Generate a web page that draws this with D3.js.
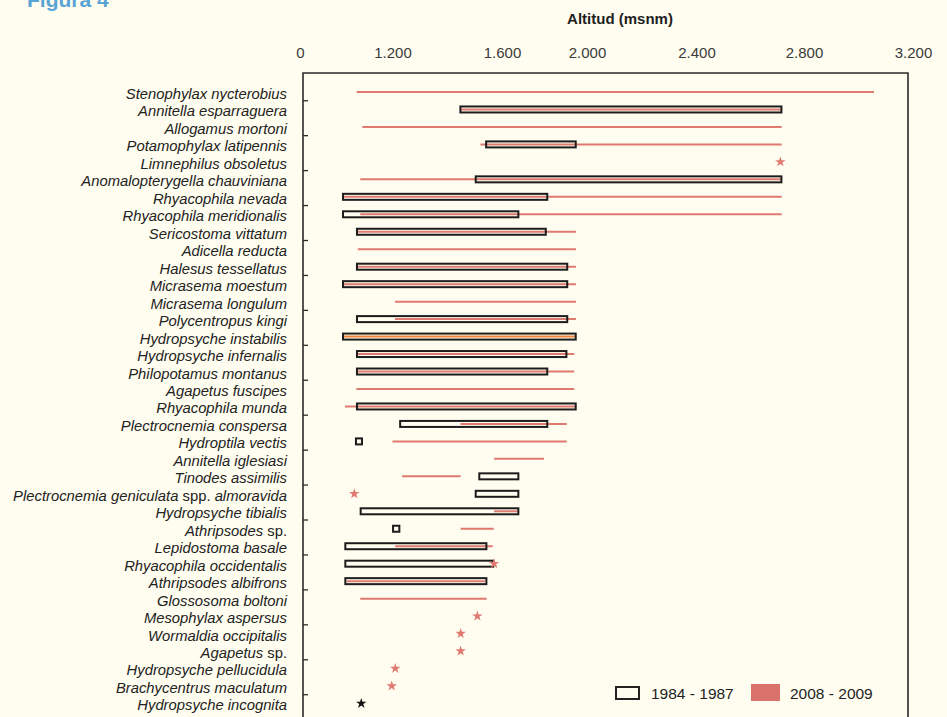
<!DOCTYPE html>
<html>
<head>
<meta charset="utf-8">
<script src="https://cdn.jsdelivr.net/npm/d3@7"></script>
<style>
  html, body { margin: 0; padding: 0; background: #fffdef; }
  svg { display: block; }
  text { font-family: "Liberation Sans", Arial, Helvetica, sans-serif; }
</style>
</head>
<body>
<svg id="chart" width="947" height="717"></svg>
<script>
// Species (top to bottom). Parts in [brackets] are set upright, the rest italic.
const species = [
  "Stenophylax nycterobius",
  "Annitella esparraguera",
  "Allogamus mortoni",
  "Potamophylax latipennis",
  "Limnephilus obsoletus",
  "Anomalopterygella chauviniana",
  "Rhyacophila nevada",
  "Rhyacophila meridionalis",
  "Sericostoma vittatum",
  "Adicella reducta",
  "Halesus tessellatus",
  "Micrasema moestum",
  "Micrasema longulum",
  "Polycentropus kingi",
  "Hydropsyche instabilis",
  "Hydropsyche infernalis",
  "Philopotamus montanus",
  "Agapetus fuscipes",
  "Rhyacophila munda",
  "Plectrocnemia conspersa",
  "Hydroptila vectis",
  "Annitella iglesiasi",
  "Tinodes assimilis",
  "Plectrocnemia geniculata[ spp. ]almoravida",
  "Hydropsyche tibialis",
  "Athripsodes[ sp.]",
  "Lepidostoma basale",
  "Rhyacophila occidentalis",
  "Athripsodes albifrons",
  "Glossosoma boltoni",
  "Mesophylax aspersus",
  "Wormaldia occipitalis",
  "Agapetus[ sp.]",
  "Hydropsyche pellucidula",
  "Brachycentrus maculatum",
  "Hydropsyche incognita"
];

// 1984 - 1987: altitudinal range (m a.s.l.); single records as points
const oldMin = [null, 1448, null, 1542, null, 1504, 558, 558, 739, null, 739, 558, null, 739, 558, 739, 739, null, 739, 1228,
                726, null, 1517, 1504, 787, 1202, 588, 588, 588, null, null, null, null, null, null, null];
const oldMax = [null, 2716, null, 1947, null, 2716, 1813, 1677, 1806, null, 1907, 1907, null, 1907, 1947, 1903, 1813, null, 1947, 1813,
                804, null, 1677, 1677, 1677, 1225, 1543, 1568, 1543, null, null, null, null, null, null, null];
const oldPoint = [null, null, null, null, null, null, null, null, null, null, null, null, null, null, null, null, null, null, null, null,
                  null, null, null, null, null, null, null, null, null, null, null, null, null, null, null, 795];

// 2008 - 2009: altitudinal range (m a.s.l.); single records as points
const newMin = [735, 1448, 808, 1521, null, 782, 565, 782, 745, 750, 745, 570, 1209, 1209, 565, 745, 745, 730, 584, 1448,
                1200, 1571, 1235, null, 1571, 1449, 1210, null, 606, 782, null, null, null, null, null, null];
const newMax = [3057, 2716, 2717, 2717, null, 2717, 2717, 2717, 1948, 1948, 1948, 1948, 1948, 1948, 1945, 1940, 1940, 1940, 1944, 1905,
                1905, 1798, 1449, null, 1677, 1570, 1566, null, 1538, 1544, null, null, null, null, null, null];
const newPoint = [null, null, null, null, 2712, null, null, null, null, null, null, null, null, null, null, null, null, null, null, null,
                  null, null, null, 704, null, null, null, 1571, null, null, 1510, 1449, 1449, 1210, 1190, null];

// Top axis tick values and their printed labels
const tickValues = [0, 1200, 1600, 2000, 2400, 2800, 3200];
const tickLabels = ["0", "1.200", "1.600", "2.000", "2.400", "2.800", "3.200"];

const seriesNames = ["1984 - 1987", "2008 - 2009"];

// ---- drawing ----
const svg = d3.select("#chart");
const RED = "#df7a70";
const HIGHLIGHT = "Hydropsyche instabilis";   // range drawn in orange

// Printed axis is not evenly spaced; piecewise scale keeps marks consistent with the labels
const x = d3.scaleLinear()
  .domain(tickValues)
  .range([300, 392.5, 502, 587, 696.5, 804, 913]);

const y = d3.scalePoint()
  .domain(d3.range(species.length))
  .range([92, 92 + 17.47 * (species.length - 1)]);

// Titles
svg.append("text")
  .attr("x", 27).attr("y", 7)
  .attr("font-size", 21).attr("font-weight", "bold")
  .attr("fill", "#5aa3d5")
  .text("Figura 4");

svg.append("text")
  .attr("x", 620).attr("y", 24)
  .attr("text-anchor", "middle")
  .attr("font-size", 15).attr("font-weight", "bold")
  .attr("fill", "#1e1e1e")
  .text("Altitud (msnm)");

// Top axis (labels only)
const axisTop = d3.axisTop(x)
  .tickValues(tickValues)
  .tickFormat((d, i) => tickLabels[i])
  .tickSize(0)
  .tickPadding(3);

const gAxis = svg.append("g")
  .attr("transform", "translate(0,61)")
  .call(axisTop);
gAxis.select(".domain").remove();
gAxis.selectAll("text")
  .attr("font-size", 15)
  .attr("font-family", "\"Liberation Sans\", Arial, sans-serif")
  .attr("fill", "#3a3a3a");

// Plot frame
const frameLeft = 303, frameRight = 908, frameTop = 73;
svg.append("path")
  .attr("d", `M${frameLeft},730 V${frameTop} H${frameRight} V730`)
  .attr("fill", "none")
  .attr("stroke", "#2a2a2a")
  .attr("stroke-width", 1.6);

// Left axis ticks: one between each pair of rows
const tickRows = d3.range(0, species.length, 2);
svg.append("g").selectAll("line")
  .data(tickRows)
  .join("line")
  .attr("x1", frameLeft).attr("x2", frameLeft + 5)
  .attr("y1", i => (y(i) + y(i + 1)) / 2)
  .attr("y2", i => (y(i) + y(i + 1)) / 2)
  .attr("stroke", "#2a2a2a")
  .attr("stroke-width", 1.3);

// Species labels
const labels = svg.append("g").selectAll("text")
  .data(species)
  .join("text")
  .attr("x", 287)
  .attr("y", (d, i) => y(i) + 1.8)
  .attr("dy", "0.35em")
  .attr("text-anchor", "end")
  .attr("font-size", 14.8)
  .attr("fill", "#222");

labels.each(function (d) {
  const parts = d.split(/(\[[^\]]*\])/).filter(p => p.length);
  const t = d3.select(this);
  parts.forEach(p => {
    const upright = p.startsWith("[");
    t.append("tspan")
      .attr("font-style", upright ? "normal" : "italic")
      .text(upright ? p.slice(1, -1) : p);
  });
});

const idx = d3.range(species.length);

// 2008 - 2009 ranges
svg.append("g").selectAll("line")
  .data(idx.filter(i => newMin[i] != null))
  .join("line")
  .attr("x1", i => x(newMin[i]))
  .attr("x2", i => x(newMax[i]))
  .attr("y1", i => y(i)).attr("y2", i => y(i))
  .attr("stroke", i => species[i] === HIGHLIGHT ? "#f0843a" : RED)
  .attr("stroke-width", 2);

// 1984 - 1987 ranges
const barH = 6;
svg.append("g").selectAll("rect")
  .data(idx.filter(i => oldMin[i] != null))
  .join("rect")
  .attr("x", i => x(oldMin[i]))
  .attr("width", i => x(oldMax[i]) - x(oldMin[i]))
  .attr("y", i => y(i) - barH / 2)
  .attr("height", barH)
  .attr("fill", "none")
  .attr("stroke", "#1c1c1c")
  .attr("stroke-width", 2);

// Single records as stars
const star = d3.symbol().type(d3.symbolStar).size(34);
svg.append("g").selectAll("path.new")
  .data(idx.filter(i => newPoint[i] != null))
  .join("path")
  .attr("class", "new")
  .attr("transform", i => `translate(${x(newPoint[i])},${y(i)})`)
  .attr("d", star)
  .attr("fill", RED);

svg.append("g").selectAll("path.old")
  .data(idx.filter(i => oldPoint[i] != null))
  .join("path")
  .attr("class", "old")
  .attr("transform", i => `translate(${x(oldPoint[i])},${y(i)})`)
  .attr("d", star)
  .attr("fill", "#111");

// Legend
const lg = svg.append("g");
lg.append("rect")
  .attr("x", 616).attr("y", 687).attr("width", 23).attr("height", 12)
  .attr("fill", "none").attr("stroke", "#222").attr("stroke-width", 2);
lg.append("text")
  .attr("x", 651).attr("y", 699)
  .attr("font-size", 15.5).attr("fill", "#1e1e1e")
  .text(seriesNames[0]);
lg.append("rect")
  .attr("x", 751).attr("y", 684).attr("width", 29).attr("height", 17)
  .attr("fill", "#d9726b");
lg.append("text")
  .attr("x", 790).attr("y", 699)
  .attr("font-size", 15.5).attr("fill", "#1e1e1e")
  .text(seriesNames[1]);
</script>
</body>
</html>
